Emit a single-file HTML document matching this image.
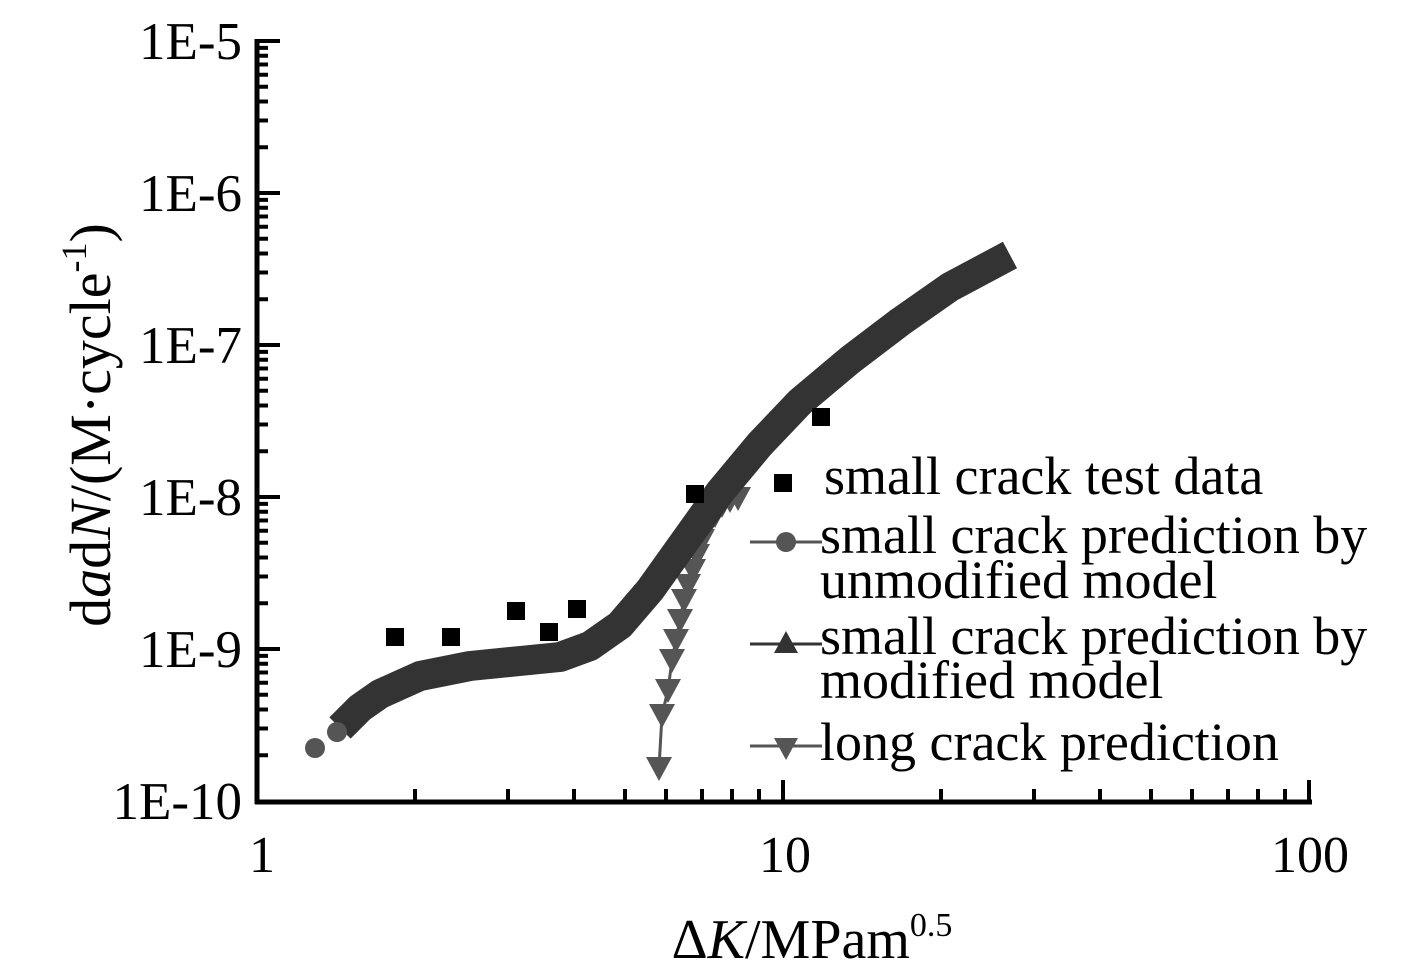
<!DOCTYPE html><html><head><style>body{margin:0;background:#fff}svg{display:block}text{font-family:"Liberation Serif",serif;fill:#000}</style></head><body>
<svg width="1417" height="963" viewBox="0 0 1417 963">
<g stroke="#000" stroke-width="5" fill="none">
<line x1="257" y1="39" x2="257" y2="804"/><line x1="255" y1="802" x2="1312" y2="802"/>
</g>
<path stroke="#000" stroke-width="4" fill="none" d="M257 41H280M257 193H280M257 345H280M257 497H280M257 649H280
M257 755.2H268M257 728.5H268M257 709.5H268M257 694.8H268M257 682.7H268M257 672.5H268M257 663.7H268M257 655.9H268
M257 603.2H268M257 576.5H268M257 557.5H268M257 542.8H268M257 530.7H268M257 520.5H268M257 511.7H268M257 503.9H268
M257 451.2H268M257 424.5H268M257 405.5H268M257 390.8H268M257 378.7H268M257 368.5H268M257 359.7H268M257 351.9H268
M257 299.2H268M257 272.5H268M257 253.5H268M257 238.8H268M257 226.7H268M257 216.5H268M257 207.7H268M257 199.9H268
M257 147.2H268M257 120.5H268M257 101.5H268M257 86.8H268M257 74.7H268M257 64.5H268M257 55.7H268M257 47.9H268
M783 802V780M1309 802V780
M415 802V789M508 802V789M574 802V789M625 802V789M666 802V789M702 802V789M732 802V789M759 802V789
M941 802V789M1034 802V789M1100 802V789M1151 802V789M1192 802V789M1228 802V789M1258 802V789M1285 802V789"/>
<g font-size="53" text-anchor="end">
<text x="242" y="59">1E-5</text><text x="242" y="211">1E-6</text><text x="242" y="363">1E-7</text><text x="242" y="515">1E-8</text><text x="242" y="667">1E-9</text><text x="242" y="819">1E-10</text></g>
<g font-size="52" text-anchor="middle"><text x="262" y="872">1</text><text x="785" y="872">10</text><text x="1310" y="872">100</text></g>
<text x="812" y="958" font-size="56" text-anchor="middle">Δ<tspan font-style="italic">K</tspan>/MPam<tspan font-size="34" dy="-22">0.5</tspan></text>
<text transform="translate(110,425) rotate(-90)" font-size="58" text-anchor="middle">d<tspan font-style="italic">a</tspan>d<tspan font-style="italic">N</tspan>/(M·cycle<tspan font-size="36" dy="-24">-1</tspan><tspan dy="24">)</tspan></text>
<polyline points="659,768 662,715 668,690 672,660 676,640 680,620 684,600 688,585 693,570 697,555 702,540 708,525 715,515 722,505 730,500 738,498" fill="none" stroke="#555" stroke-width="3"/>
<g fill="#555">
<polygon points="646,757 672,757 659,781"/><polygon points="649,704 675,704 662,728"/><polygon points="655,679 681,679 668,703"/><polygon points="659,649 685,649 672,673"/><polygon points="663,629 689,629 676,653"/><polygon points="667,609 693,609 680,633"/><polygon points="671,589 697,589 684,613"/><polygon points="675,574 701,574 688,598"/><polygon points="680,559 706,559 693,583"/><polygon points="684,544 710,544 697,568"/><polygon points="689,529 715,529 702,553"/><polygon points="695,514 721,514 708,538"/><polygon points="702,504 728,504 715,528"/><polygon points="709,494 735,494 722,518"/><polygon points="717,489 743,489 730,513"/><polygon points="725,487 751,487 738,511"/>
</g>
<polyline points="340,728 360,708 380,694 420,676 470,666 520,661 560,657 590,646 620,625 650,590 680,548 720,492 760,444 800,402 850,360 900,322 950,287 1010,255" fill="none" stroke="#333" stroke-width="30" stroke-linejoin="round"/>
<circle cx="315" cy="748" r="10" fill="#555"/><circle cx="337" cy="732" r="10" fill="#555"/>
<g fill="#000"><rect x="386" y="628" width="18" height="18"/><rect x="442" y="628" width="18" height="18"/><rect x="507" y="602" width="18" height="18"/><rect x="540" y="623" width="18" height="18"/><rect x="568" y="600" width="18" height="18"/><rect x="686" y="485" width="18" height="18"/><rect x="774" y="474" width="18" height="18"/><rect x="812" y="408" width="18" height="18"/></g>
<g font-size="54">
<text x="824" y="494">small crack test data</text>
<line x1="750" y1="542" x2="822" y2="542" stroke="#555" stroke-width="3"/><circle cx="786" cy="542" r="10" fill="#555"/>
<text x="820" y="553">small crack prediction by</text><text x="820" y="598">unmodified model</text>
<line x1="750" y1="644" x2="822" y2="644" stroke="#333" stroke-width="3"/><polygon points="786,631 774,653 798,653" fill="#333"/>
<text x="820" y="654">small crack prediction by</text><text x="820" y="698">modified model</text>
<line x1="750" y1="746" x2="822" y2="746" stroke="#555" stroke-width="3"/><polygon points="774,738 798,738 786,760" fill="#555"/>
<text x="820" y="760">long crack prediction</text></g>
</svg></body></html>
